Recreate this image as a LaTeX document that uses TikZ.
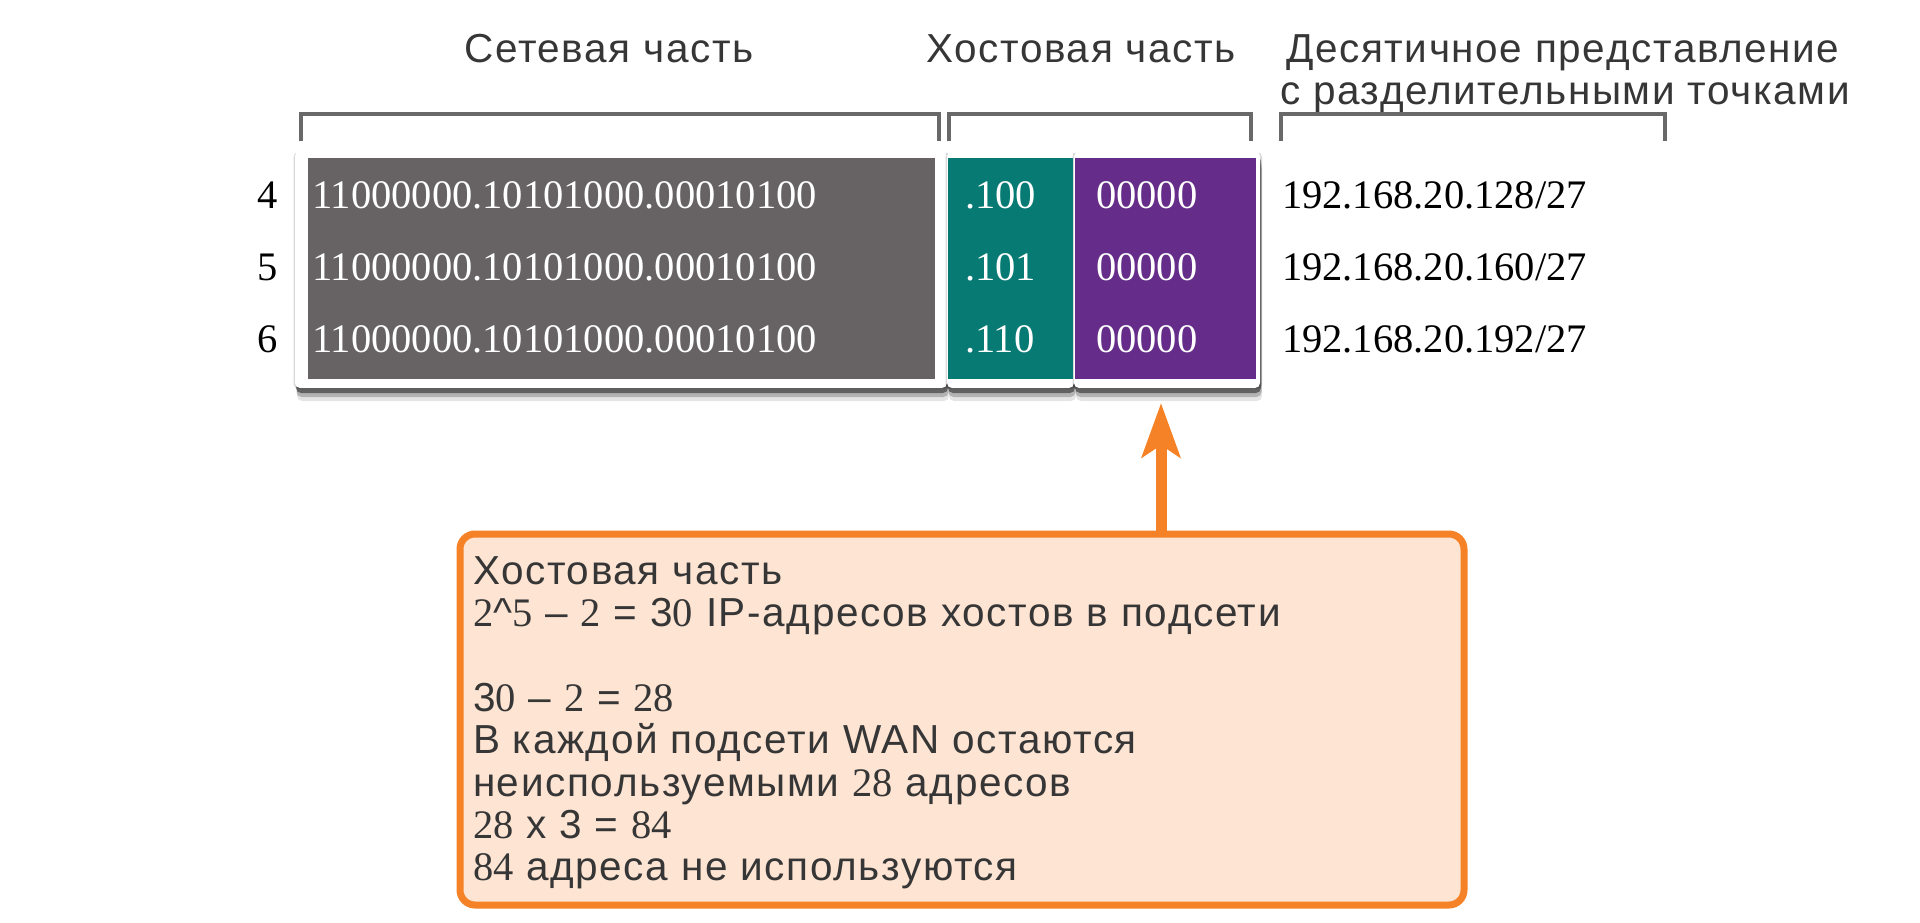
\documentclass[tikz,border=0pt]{standalone}
\usepackage{fontspec}
\setmainfont[LetterSpace=4]{Liberation Sans}
\newfontfamily\tms{Liberation Serif}
\usetikzlibrary{arrows.meta,shadows}
\definecolor{netgray}{RGB}{103,99,100}
\definecolor{hostteal}{RGB}{8,122,116}
\definecolor{subpurple}{RGB}{101,45,137}
\definecolor{ornge}{RGB}{245,130,38}
\definecolor{peach}{RGB}{253,228,211}
\definecolor{txtgray}{RGB}{54,54,54}
\definecolor{brkgray}{RGB}{105,105,105}
\begin{document}
\begin{tikzpicture}[x=1pt,y=-1pt,
  every node/.style={inner sep=0pt,outer sep=0pt},
  title/.style={font=\fontsize{40.5}{40}\selectfont,text=txtgray,anchor=base},
  notetxt/.style={font=\fontsize{40.5}{42}\selectfont,text=txtgray,anchor=base west},
  sertxt/.style={font=\tms\fontsize{40.5}{42}\selectfont,anchor=base west},
  bintxt/.style={sertxt,text=white},
  bracket/.style={draw=brkgray,line width=3.5pt},
  panel/.style={fill=white,rounded corners=5pt,
    general shadow={fill=black,opacity=.10,shadow xshift=2pt,shadow yshift=-13pt},
    general shadow={fill=black,opacity=.22,shadow xshift=1.5pt,shadow yshift=-9pt},
    general shadow={fill=black,opacity=.45,shadow xshift=1pt,shadow yshift=-5pt},
    general shadow={fill=black,opacity=.15,shadow xshift=-1.5pt,shadow yshift=-1pt},
    general shadow={fill=black,opacity=.15,shadow xshift=2pt,shadow yshift=-1pt}},
  colbox/.style={anchor=north west,minimum height=221pt},
  notebox/.style={draw=ornge,fill=peach,line width=7pt,rounded corners=15pt,anchor=north west},
  callarrow/.style={draw=ornge,line width=11pt,-{Stealth[length=54pt,width=38pt,inset=12pt]},fill=ornge}
]
\useasboundingbox (0,0) rectangle (1920,922);

% titles
\node[title] (tnet) at (609,62) {Сетевая часть};
\node[title] (thost) at (1081,62) {Хостовая часть};
\node[title,anchor=base west] (tdec1) at (1286,62) {Десятичное представление};
\node[title,anchor=base west] (tdec2) at (1280,104) {с разделительными точками};

% brackets
\draw[bracket] (301,141) -- (301,114) -- (939,114) -- (939,141);
\draw[bracket] (949,141) -- (949,114) -- (1251,114) -- (1251,141);
\draw[bracket] (1281,141) -- (1281,114) -- (1665,114) -- (1665,141);

% panels
\path[panel] (295,151) rectangle (947,388);
\path[panel] (947,151) rectangle (1074,388);
\path[panel] (1074,151) rectangle (1260,388);

% coloured boxes
\node[colbox,fill=netgray,minimum width=627pt] (net) at (308,158) {};
\node[colbox,fill=hostteal,minimum width=125pt] (host) at (948,158) {};
\node[colbox,fill=subpurple,minimum width=181pt] (sub) at (1075,158) {};

% rows
\node[sertxt] (r4) at (257,208) {4};
\node[sertxt] (r5) at (257,280) {5};
\node[sertxt] (r6) at (257,352) {6};
\node[bintxt] (b4) at (312,208) {11000000.10101000.00010100};
\node[bintxt] (b5) at (312,280) {11000000.10101000.00010100};
\node[bintxt] (b6) at (312,352) {11000000.10101000.00010100};
\node[bintxt] (h4) at (965,208) {.100};
\node[bintxt] (h5) at (965,280) {.101};
\node[bintxt] (h6) at (965,352) {.110};
\node[bintxt] (s4) at (1096,208) {00000};
\node[bintxt] (s5) at (1096,280) {00000};
\node[bintxt] (s6) at (1096,352) {00000};
\node[sertxt] (ip4) at (1282,208) {192.168.20.128/27};
\node[sertxt] (ip5) at (1282,280) {192.168.20.160/27};
\node[sertxt] (ip6) at (1282,352) {192.168.20.192/27};

% note box
\node[notebox,minimum width=1004pt,minimum height=371pt] (note) at (460,534) {};
\node[notetxt] (l1) at (473,584) {Хостовая часть};
\node[notetxt] (l2) at (473,626) {{\tms 2}\textasciicircum{\tms 5} – {\tms 2} = 3{\tms 0} IP-адресов хостов в подсети};
\node[notetxt] (l3) at (473,711) {3{\tms 0} – {\tms 2} = {\tms 28}};
\node[notetxt] (l4) at (473,753) {В каждой подсети WAN остаются};
\node[notetxt] (l5) at (473,796) {неиспользуемыми {\tms 28} адресов};
\node[notetxt] (l6) at (473,838) {{\tms 28} x 3 = {\tms 84}};
\node[notetxt] (l7) at (473,880) {{\tms 84} адреса не используются};

% arrow
\coordinate (tip) at (1161,403);
\draw[callarrow] (note.north -| tip) -- (tip);
\end{tikzpicture}
\end{document}
